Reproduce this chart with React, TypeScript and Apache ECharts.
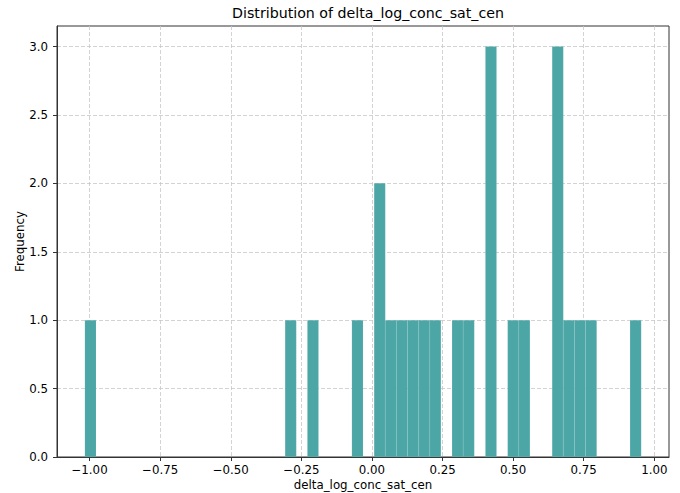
import React, { useEffect, useRef } from "react";
import * as echarts from "echarts";

const title = "Distribution of delta_log_conc_sat_cen";
const xName = "delta_log_conc_sat_cen";
const yName = "Frequency";

const binMin = -1.0166;
const binWidth = 0.0394;
const counts = [
  1, 0, 0, 0, 0, 0, 0, 0, 0, 0,
  0, 0, 0, 0, 0, 0, 0, 0, 1, 0,
  1, 0, 0, 0, 1, 0, 2, 1, 1, 1,
  1, 1, 0, 1, 1, 0, 3, 0, 1, 1,
  0, 0, 3, 1, 1, 1, 0, 0, 0, 1,
];

const xTicks = [-1, -0.75, -0.5, -0.25, 0, 0.25, 0.5, 0.75, 1];
const yTicks = [0, 0.5, 1, 1.5, 2, 2.5, 3];
const xMin = -1.1153;
const xMax = 1.0519;
const yMax = 3.15;

const FONT = "DejaVu Sans";

export default function App() {
  const ref = useRef<HTMLDivElement>(null);
  useEffect(() => {
    if (!ref.current) return;
    const chart = echarts.init(ref.current, null, { renderer: "svg" });
    const bins = counts.map((c, i) => [
      binMin + i * binWidth,
      binMin + (i + 1) * binWidth,
      c,
    ]);
    const fmt = (v: number, d: number) => v.toFixed(d).replace("-", "\u2212");
    chart.setOption({
      animation: false,
      backgroundColor: "#ffffff",
      title: {
        text: title,
        left: 363,
        textAlign: "center",
        top: 1,
        textStyle: { fontFamily: FONT, fontSize: 14.2, fontWeight: "normal", color: "#000" },
      },
      grid: {
        left: 57,
        right: 11,
        top: 26,
        bottom: 36,
        outerBoundsMode: "none",
        containLabel: false,
        show: true,
        borderColor: "#333",
        borderWidth: 1,
        backgroundColor: "transparent",
      },
      xAxis: {
        type: "value",
        min: xMin,
        max: xMax,
        interval: 0.25,
        name: xName,
        nameLocation: "middle",
        nameGap: 22,
        nameMoveOverlap: false,
        nameTextStyle: { fontFamily: FONT, fontSize: 11.8, color: "#000" },
        axisLine: { show: true, onZero: false, lineStyle: { color: "#333", width: 1 } },
        axisTick: { show: true, length: 4, customValues: xTicks, lineStyle: { color: "#333" } },
        axisLabel: {
          customValues: xTicks,
          margin: 7,
          fontFamily: FONT,
          fontSize: 11.8,
          color: "#000",
          formatter: (v: number) => fmt(v, 2),
        },
        splitLine: { show: true, lineStyle: { color: "#c8c8c8", type: [4, 2], width: 0.8 } },
      },
      yAxis: {
        type: "value",
        min: 0,
        max: yMax,
        interval: 0.5,
        name: yName,
        nameLocation: "middle",
        nameGap: 31,
        nameMoveOverlap: false,
        nameTextStyle: { fontFamily: FONT, fontSize: 11.8, color: "#000" },
        axisLine: { show: true, onZero: false, lineStyle: { color: "#333", width: 1 } },
        axisTick: { show: true, length: 4, customValues: yTicks, lineStyle: { color: "#333" } },
        axisLabel: {
          customValues: yTicks,
          margin: 9,
          fontFamily: FONT,
          fontSize: 11.8,
          color: "#000",
          formatter: (v: number) => fmt(v, 1),
        },
        splitLine: { show: true, lineStyle: { color: "#c8c8c8", type: [4, 2], width: 0.8 } },
      },
      series: [
        {
          type: "custom",
          data: bins,
          encode: { x: [0, 1], y: 2 },
          renderItem: (params: any, api: any) => {
            const c = api.value(2);
            if (!c) return null;
            const p0 = api.coord([api.value(0), c]);
            const p1 = api.coord([api.value(1), 0]);
            return {
              type: "rect",
              shape: { x: p0[0], y: p0[1], width: p1[0] - p0[0], height: p1[1] - p0[1] },
              style: { fill: "#4da6a6", stroke: "rgba(255,255,255,0.15)", lineWidth: 0.5 },
            };
          },
        },
      ],
    });
    return () => chart.dispose();
  }, []);
  return (
    <div
      ref={ref}
      style={{ position: "absolute", left: 0, top: 0, width: 680, height: 493 }}
    />
  );
}
